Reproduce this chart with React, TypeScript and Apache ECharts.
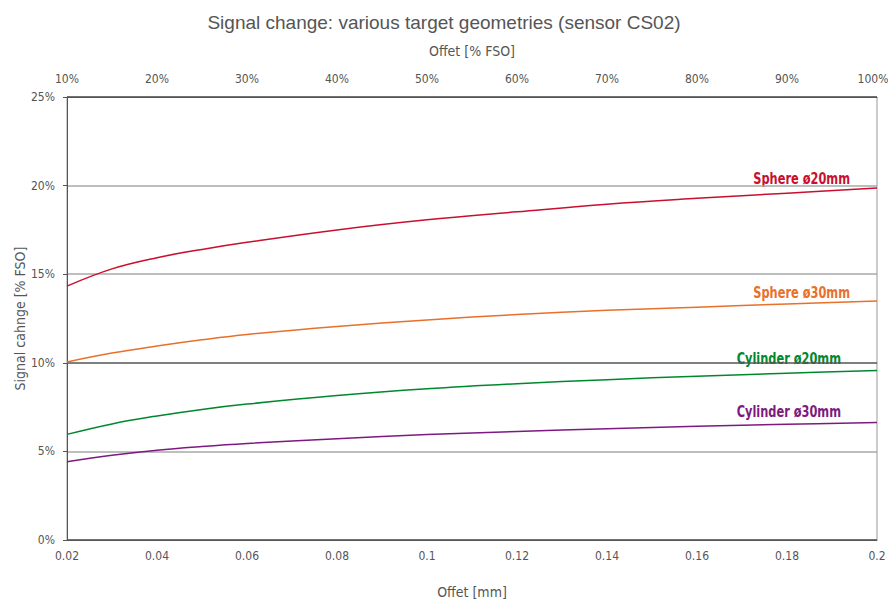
import React, { useEffect, useRef } from "react";
import * as echarts from "echarts";

const offsetMm = [0.02, 0.03, 0.04, 0.05, 0.06, 0.08, 0.1, 0.12, 0.14, 0.16, 0.18, 0.2];
const sphere20 = [14.33, 15.3, 15.93, 16.4, 16.8, 17.5, 18.07, 18.52, 18.95, 19.28, 19.57, 19.86];
const sphere30 = [10.05, 10.55, 10.95, 11.3, 11.6, 12.05, 12.42, 12.72, 12.96, 13.14, 13.32, 13.49];
const cylinder20 = [5.96, 6.55, 7.0, 7.37, 7.67, 8.15, 8.53, 8.82, 9.05, 9.24, 9.41, 9.56];
const cylinder30 = [4.41, 4.78, 5.07, 5.28, 5.45, 5.72, 5.95, 6.12, 6.28, 6.42, 6.53, 6.63];

const seriesNames = ["Sphere ø20mm", "Sphere ø30mm", "Cylinder ø20mm", "Cylinder ø30mm"];
const seriesColors = ["#c8102e", "#e8702a", "#00882e", "#7d1a80"];
const seriesValues = [sphere20, sphere30, cylinder20, cylinder30];

const condensed = "'Liberation Sans Narrow', 'DejaVu Sans Condensed', 'Roboto Condensed', 'Liberation Sans', sans-serif";
const gray = "#555";

export default function App() {
  const ref = useRef<HTMLDivElement>(null);
  useEffect(() => {
    if (!ref.current) return;
    const chart = echarts.init(ref.current, undefined, { renderer: "svg" });
    const labelPos = [
      { right: 850, y: 178 },
      { right: 850, y: 292 },
      { right: 841, y: 358 },
      { right: 841, y: 411 },
    ];
    chart.setOption({
      animation: false,
      backgroundColor: "#fff",
      title: {
        text: "Signal change: various target geometries (sensor CS02)",
        left: "center",
        top: 8,
        textStyle: { fontFamily: "'Liberation Sans', Arial, sans-serif", fontSize: 19, fontWeight: "normal", color: gray },
      },
      grid: {
        left: 67,
        right: 11,
        top: 97,
        bottom: 61,
        show: true,
        borderColor: "#999",
        borderWidth: 1,
        containLabel: false,
        outerBoundsMode: "none",
      },
      xAxis: [
        {
          type: "value",
          position: "bottom",
          min: 0.02,
          max: 0.2,
          interval: 0.02,
          name: "Offet [mm]",
          nameLocation: "middle",
          nameGap: 45,
          nameTextStyle: { fontFamily: condensed, fontSize: 14, color: gray },
          axisLine: { show: true, lineStyle: { color: gray, width: 1 } },
          axisTick: { show: false },
          splitLine: { show: false },
          axisLabel: {
            margin: 10,
            fontFamily: condensed,
            fontSize: 12,
            color: gray,
            formatter: (v: number) => String(+v.toFixed(2)),
          },
        },
        {
          type: "value",
          position: "top",
          min: 10,
          max: 100,
          interval: 10,
          name: "Offet [% FSO]",
          nameLocation: "middle",
          nameGap: 39,
          nameTextStyle: { fontFamily: condensed, fontSize: 14, color: gray },
          axisLine: { show: true, lineStyle: { color: gray, width: 1 } },
          axisTick: { show: false },
          splitLine: { show: false },
          axisLabel: {
            margin: 12,
            fontFamily: condensed,
            fontSize: 12,
            color: gray,
            formatter: (v: number) => (v >= 100 ? `{m|${v}%}` : `${v}%`),
            rich: { m: { fontFamily: condensed, fontSize: 12, color: gray, padding: [0, 8, 0, 0] } },
          },
        },
      ],
      yAxis: {
        type: "value",
        min: 0,
        max: 25,
        interval: 5,
        name: "Signal cahnge [% FSO]",
        nameLocation: "middle",
        nameGap: 40,
        nameMoveOverlap: false,
        nameTextStyle: { fontFamily: condensed, fontSize: 14, color: gray },
        axisLine: { show: true, lineStyle: { color: gray, width: 1 } },
        axisTick: { show: true, length: 4, lineStyle: { color: gray } },
        axisLabel: { margin: 12, fontFamily: condensed, fontSize: 12, color: gray, formatter: "{value}%" },
        splitLine: {
          show: true,
          lineStyle: { color: [gray, "#a8a8a8", gray, "#a8a8a8", "#a8a8a8", gray], width: 1.5 },
        },
      },
      series: seriesValues.map((vals, i) => ({
        type: "line",
        name: seriesNames[i],
        xAxisIndex: 0,
        smooth: 0.4,
        showSymbol: false,
        symbol: "none",
        lineStyle: { color: seriesColors[i], width: 1.5 },
        data: vals.map((v, j) => [offsetMm[j], v]),
      })),
      graphic: seriesNames.map((n, i) => ({
        type: "text",
        x: labelPos[i].right,
        y: labelPos[i].y,
        scaleX: 0.79,
        style: {
          text: n,
          align: "right",
          verticalAlign: "middle",
          fill: seriesColors[i],
          font: `bold 16px ${condensed}`,
        },
      })),
    });
    return () => chart.dispose();
  }, []);
  return (
    <div
      ref={ref}
      style={{ position: "fixed", left: 0, top: 0, width: 888, height: 601, background: "#fff" }}
    />
  );
}
